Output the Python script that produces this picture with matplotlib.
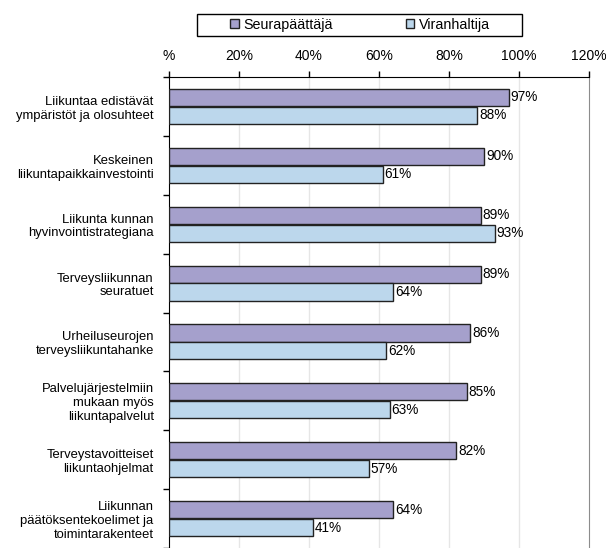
import matplotlib
matplotlib.use("Agg")
import matplotlib.pyplot as plt
import numpy as np
from matplotlib.ticker import FixedLocator
from matplotlib.patches import Rectangle

categories = [
    "Liikuntaa edistävät\nympäristöt ja olosuhteet",
    "Keskeinen\nliikuntapaikkainvestointi",
    "Liikunta kunnan\nhyvinvointistrategiana",
    "Terveysliikunnan\nseuratuet",
    "Urheiluseurojen\nterveysliikuntahanke",
    "Palvelujärjestelmiin\nmukaan myös\nliikuntapalvelut",
    "Terveystavoitteiset\nliikuntaohjelmat",
    "Liikunnan\npäätöksentekoelimet ja\ntoimintarakenteet",
]
seurapaattaja = [97, 90, 89, 89, 86, 85, 82, 64]
viranhaltija = [88, 61, 93, 64, 62, 63, 57, 41]
xticks = [0, 20, 40, 60, 80, 100, 120]
xticklabels = ["%", "20%", "40%", "60%", "80%", "100%", "120%"]
series_names = ["Seurapäättäjä", "Viranhaltija"]

plt.rcParams['font.family'] = ['Liberation Sans', 'DejaVu Sans']
FS_TICK = 10.0
FS_LAB = 9.4
FS_VAL = 9.8
FS_LEG = 10.3

fig = plt.figure(figsize=(6.06, 5.48), dpi=100)
W, H = 606, 548
ax = fig.add_axes([169 / W, 0, (589 - 169) / W, (548 - 77) / H])

purple = "#A5A0CC"
blue = "#BCD7EC"
y = np.arange(len(categories))
h = 0.29
off = 0.152
b1 = ax.barh(y - off, seurapaattaja, height=h, color=purple, edgecolor="#222222", linewidth=1.0,
             label=series_names[0], zorder=3)
b2 = ax.barh(y + off, viranhaltija, height=h, color=blue, edgecolor="#222222", linewidth=1.0,
             label=series_names[1], zorder=3)

for bars, vals in ((b1, seurapaattaja), (b2, viranhaltija)):
    for bar, v in zip(bars, vals):
        ax.text(bar.get_width() + 0.6, bar.get_y() + bar.get_height() / 2, f"{v}%",
                va="center", ha="left", fontsize=FS_VAL, color="black", zorder=4)

ax.set_xlim(0, 120)
ax.set_ylim(len(categories) - 0.5, -0.5)

ax.xaxis.tick_top()
ax.set_xticks(xticks)
ax.set_xticklabels(xticklabels, fontsize=FS_TICK)
ax.tick_params(axis="x", direction="out", length=4, width=1, pad=6, colors="black")

ax.set_yticks(y)
ax.set_yticklabels(categories, fontsize=FS_LAB, ha="right", multialignment="right",
                   linespacing=1.2)
ax.tick_params(axis="y", which="major", length=0, pad=11)
ax.yaxis.set_minor_locator(FixedLocator(np.arange(len(categories) + 1) - 0.5))
ax.tick_params(axis="y", which="minor", direction="out", length=4, width=1)

for xv in xticks[1:-1]:
    ax.axvline(xv, color="#E6E6E6", linewidth=1, zorder=1)

ax.spines["top"].set_color("black")
ax.spines["left"].set_color("black")
ax.spines["right"].set_color("#8C8C8C")
ax.spines["bottom"].set_visible(False)

# legend frame drawn as a figure rectangle (wider horizontal padding, like the reference)
fig.patches.append(Rectangle((197 / W, 1 - 36 / H), (522 - 197) / W, 22 / H,
                             transform=fig.transFigure, facecolor="white",
                             edgecolor="black", linewidth=1.0, zorder=0))
leg = fig.legend(handles=[b1, b2], labels=series_names, loc="center",
                 bbox_to_anchor=(360 / W, 1 - 25 / H), ncol=2, fontsize=FS_LEG,
                 frameon=False, handlelength=0.6, handleheight=0.6, handletextpad=0.3,
                 columnspacing=5.1, borderpad=0.0, borderaxespad=0)

fig.savefig("out.png", dpi=100)
